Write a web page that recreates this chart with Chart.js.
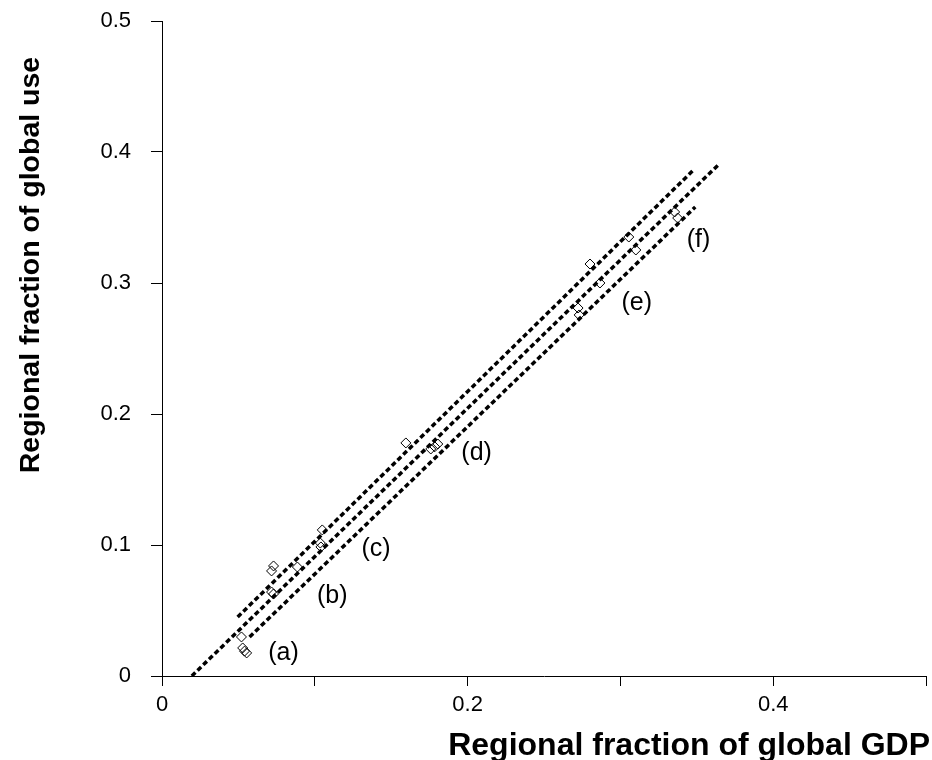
<!DOCTYPE html>
<html>
<head>
<meta charset="utf-8">
<script src="https://cdn.jsdelivr.net/npm/chart.js@4"></script>
<style>
  html, body { margin: 0; padding: 0; background: #fff; }
  #wrap { width: 932px; height: 760px; }
</style>
</head>
<body>
<div id="wrap"><canvas id="c" width="932" height="760"></canvas></div>
<script>
// Observed points (regional fraction of global GDP vs. of global use)
const pointsGDP = [0.052, 0.0528, 0.054, 0.0554,
                   0.0717, 0.073, 0.0717, 0.073,
                   0.0886, 0.1049, 0.1036, 0.104,
                   0.1596, 0.1759, 0.1805, 0.1785,
                   0.2801, 0.2866, 0.2723, 0.273,
                   0.3055, 0.3101, 0.3355, 0.3375];
const pointsUse = [0.0298, 0.0214, 0.019, 0.0176,
                   0.0802, 0.084, 0.0641, 0.0626,
                   0.0832, 0.1115, 0.1015, 0.0985,
                   0.1779, 0.1733, 0.1771, 0.1750,
                   0.3145, 0.300, 0.2809, 0.2756,
                   0.3351, 0.3252, 0.3542, 0.3496];

// Three fitted dashed lines: [start, end]
const fitUpperX = [0.0495, 0.3485];
const fitUpperY = [0.045, 0.387];
const fitMidX = [0.0195, 0.3648];
const fitMidY = [0.0, 0.391];
const fitLowerX = [0.0573, 0.349];
const fitLowerY = [0.0298, 0.358];

// Group labels
const groupLabels = ['(a)', '(b)', '(c)', '(d)', '(e)', '(f)'];
const groupLabelX = [0.0795, 0.1114, 0.1401, 0.2059, 0.3107, 0.3511];
const groupLabelY = [0.0176, 0.0611, 0.0969, 0.1702, 0.2847, 0.3328];

const xTickLabels = ['0', '', '0.2', '', '0.4', ''];
const yTickLabels = ['0', '0.1', '0.2', '0.3', '0.4', '0.5'];

const xTitle = 'Regional fraction of global GDP';
const yTitle = 'Regional fraction of global use';

const toXY = (xs, ys) => xs.map((x, i) => ({x: x, y: ys[i]}));

const lineStyle = {
  showLine: true, borderColor: '#000', borderWidth: 3.5, borderDash: [5, 3],
  pointRadius: 0, pointHoverRadius: 0, fill: false
};

const labelsPlugin = {
  id: 'extraText',
  afterDatasetsDraw(chart) {
    const ctx = chart.ctx;
    const xs = chart.scales.x, ys = chart.scales.y;
    ctx.save();
    ctx.fillStyle = '#000';
    ctx.font = '25px "Liberation Sans", Arial, sans-serif';
    ctx.textAlign = 'center';
    ctx.textBaseline = 'middle';
    groupLabels.forEach((t, i) => {
      ctx.fillText(t, xs.getPixelForValue(groupLabelX[i]), ys.getPixelForValue(groupLabelY[i]));
    });
    // axis titles
    ctx.font = 'bold 32px "Liberation Sans", Arial, sans-serif';
    ctx.textAlign = 'right';
    ctx.textBaseline = 'middle';
    ctx.fillText(xTitle, 930, 746);
    ctx.font = 'bold 28.5px "Liberation Sans", Arial, sans-serif';
    ctx.translate(31, 265);
    ctx.rotate(-Math.PI / 2);
    ctx.textAlign = 'center';
    ctx.fillText(yTitle, 0, 0);
    ctx.restore();
  }
};

new Chart(document.getElementById('c'), {
  type: 'scatter',
  data: {
    datasets: [
      { data: toXY(fitUpperX, fitUpperY), ...lineStyle },
      { data: toXY(fitMidX, fitMidY), ...lineStyle },
      { data: toXY(fitLowerX, fitLowerY), ...lineStyle },
      {
        data: toXY(pointsGDP, pointsUse),
        pointStyle: 'rectRot', pointRadius: 5, pointBorderWidth: 1,
        pointBorderColor: '#000', pointBackgroundColor: 'rgba(0,0,0,0)',
        showLine: false
      }
    ]
  },
  options: {
    responsive: false,
    animation: false,
    devicePixelRatio: 1,
    layout: { padding: { left: 0, right: 2, top: 21, bottom: 0 } },
    plugins: { legend: { display: false }, tooltip: { enabled: false }, title: { display: false } },
    scales: {
      x: {
        type: 'linear', min: 0, max: 0.5,
        afterFit: s => { s.height = 84; s.paddingLeft = 0; s.paddingRight = 0; },
        border: { display: true, color: '#000', width: 1 },
        grid: { display: true, drawOnChartArea: false, drawTicks: true, tickLength: 10, color: '#000' },
        ticks: {
          stepSize: 0.1, color: '#000', padding: 6, maxRotation: 0,
          font: { family: '"Liberation Sans", Arial, sans-serif', size: 22 },
          callback: (v) => xTickLabels[Math.round(v * 10)]
        }
      },
      y: {
        type: 'linear', min: 0, max: 0.5,
        afterFit: s => { s.width = 162; s.paddingTop = 0; s.paddingBottom = 0; },
        border: { display: true, color: '#000', width: 1 },
        grid: { display: true, drawOnChartArea: false, drawTicks: true, tickLength: 11, color: '#000' },
        ticks: {
          stepSize: 0.1, color: '#000', padding: 20,
          font: { family: '"Liberation Sans", Arial, sans-serif', size: 22 },
          callback: (v) => yTickLabels[Math.round(v * 10)]
        }
      }
    }
  },
  plugins: [labelsPlugin]
});
</script>
</body>
</html>
